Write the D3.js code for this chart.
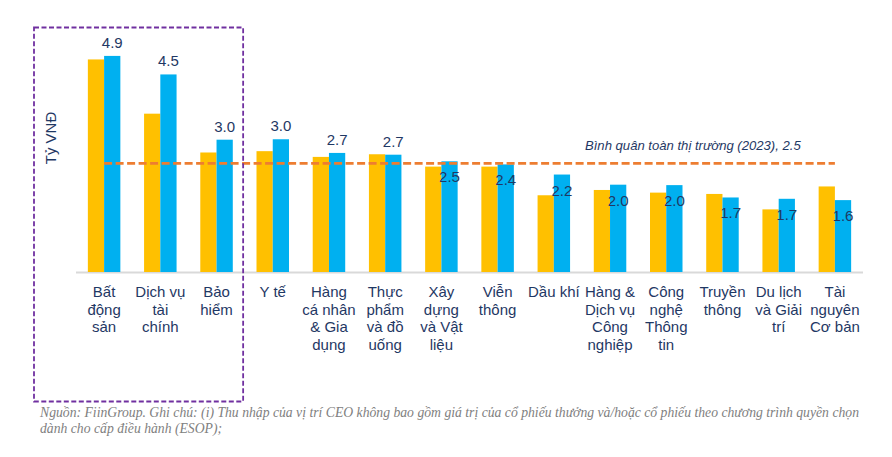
<!DOCTYPE html>
<html>
<head>
<meta charset="utf-8">
<script src="https://cdn.jsdelivr.net/npm/d3@7"></script>
<style>
  html, body { margin: 0; padding: 0; background: #ffffff; }
  svg { display: block; }
</style>
</head>
<body>
<svg id="chart" width="892" height="457"></svg>
<script>
// ---- DATA ----
const categories = [
  "Bất\nđộng\nsản",
  "Dịch vụ\ntài\nchính",
  "Bảo\nhiểm",
  "Y tế",
  "Hàng\ncá nhân\n& Gia\ndụng",
  "Thực\nphẩm\nvà đồ\nuống",
  "Xây\ndựng\nvà Vật\nliệu",
  "Viễn\nthông",
  "Dầu khí",
  "Hàng &\nDịch vụ\nCông\nnghiệp",
  "Công\nnghệ\nThông\ntin",
  "Truyền\nthông",
  "Du lịch\nvà Giải\ntrí",
  "Tài\nnguyên\nCơ bản"
];
const seriesNames = ["2022", "2023"];
const values2022 = [4.82, 3.59, 2.71, 2.74, 2.61, 2.67, 2.39, 2.39, 1.74, 1.86, 1.80, 1.77, 1.42, 1.94];
const values2023 = [4.90, 4.48, 3.00, 3.01, 2.70, 2.66, 2.51, 2.44, 2.21, 1.98, 1.97, 1.69, 1.66, 1.63];
const marketAverage = 2.5;
const averageLabel = "Bình quân toàn thị trường (2023), 2.5";
const yAxisTitle = "Tỷ VNĐ";
const footerLines = [
  "Nguồn: FiinGroup. Ghi chú: (i) Thu nhập của vị trí CEO không bao gồm giá trị của cổ phiếu thưởng và/hoặc cổ phiếu theo chương trình quyền chọn",
  "dành cho cấp điều hành (ESOP);"
];
const highlightedCount = 3; // first categories inside the dashed box

// ---- STYLE ----
const colors = { "2022": "#FFC000", "2023": "#00B0F0" };
const navy = "#1F3864";
const fontSans = "Arial, 'Liberation Sans', Helvetica, sans-serif";

const svg = d3.select("#chart");

const x0 = d3.scaleBand().domain(categories).range([76, 863]).padding(0);
const groupWidth = 32.5;
const x1 = d3.scaleBand().domain(seriesNames).range([0, groupWidth]).padding(0);
const y = d3.scaleLinear().domain([0, 5]).range([272, 272 - 5 * 44.1]);

const rows = categories.map((c, i) => ({ cat: c, "2022": values2022[i], "2023": values2023[i] }));

// baseline axis
svg.append("line")
  .attr("x1", x0.range()[0]).attr("x2", x0.range()[1])
  .attr("y1", y(0) + 0.5).attr("y2", y(0) + 0.5)
  .attr("stroke", "#D9D9D9").attr("stroke-width", 2);

// bars
const groups = svg.append("g").selectAll("g")
  .data(rows).join("g")
  .attr("transform", d => `translate(${x0(d.cat) + x0.bandwidth() / 2 - groupWidth / 2},0)`);

groups.selectAll("rect")
  .data(d => seriesNames.map(s => ({ s, v: d[s] })))
  .join("rect")
  .attr("x", d => x1(d.s))
  .attr("width", x1.bandwidth())
  .attr("y", d => y(d.v))
  .attr("height", d => y(0) - y(d.v))
  .attr("fill", d => colors[d.s]);

// value labels for 2023 series
const fmt = d3.format(".1f");
svg.append("g").selectAll("text")
  .data(rows).join("text")
  .attr("x", d => x0(d.cat) + x0.bandwidth() / 2 - groupWidth / 2 + x1("2023") + x1.bandwidth() / 2)
  .attr("y", d => d["2023"] > 2.6 ? y(d["2023"]) - 8 : y(d["2023"]) + 21)
  .attr("text-anchor", "middle")
  .attr("font-family", fontSans)
  .attr("font-size", 15)
  .attr("fill", navy)
  .text(d => fmt(d["2023"]));

// average line
const avgX1 = x0(categories[0]) + x0.bandwidth() / 2;
const avgX2 = x0(categories[categories.length - 1]) + x0.bandwidth() / 2;
svg.append("line")
  .attr("x1", avgX1).attr("x2", avgX2)
  .attr("y1", y(marketAverage) + 1.5).attr("y2", y(marketAverage) + 1.5)
  .attr("stroke", "#ED7D31").attr("stroke-width", 2.75)
  .attr("stroke-dasharray", "8,3.5");

svg.append("text")
  .attr("x", 585).attr("y", 150)
  .attr("font-family", fontSans)
  .attr("font-size", 13.1)
  .attr("font-style", "italic")
  .attr("fill", navy)
  .text(averageLabel);

// category labels
const lineH = 17.6;
const catText = svg.append("g").selectAll("text")
  .data(categories).join("text")
  .attr("x", d => x0(d) + x0.bandwidth() / 2)
  .attr("y", 297)
  .attr("text-anchor", "middle")
  .attr("font-family", fontSans)
  .attr("font-size", 15)
  .attr("fill", navy);
catText.selectAll("tspan")
  .data(d => d.split("\n").map(t => ({ t, parent: d })))
  .join("tspan")
  .attr("x", d => x0(d.parent) + x0.bandwidth() / 2)
  .attr("dy", (d, i) => i === 0 ? 0 : lineH)
  .text(d => d.t);

// y axis title
svg.append("text")
  .attr("transform", "translate(56,138) rotate(-90)")
  .attr("text-anchor", "middle")
  .attr("font-family", fontSans)
  .attr("font-size", 15)
  .attr("fill", navy)
  .text(yAxisTitle);

// highlight box around first categories
const boxRight = x0(categories[highlightedCount - 1]) + x0.bandwidth() - 1.5;
svg.append("rect")
  .attr("x", 34).attr("y", 27.5)
  .attr("width", boxRight - 34).attr("height", 374)
  .attr("fill", "none")
  .attr("stroke", "#7030A0").attr("stroke-width", 1.8)
  .attr("stroke-dasharray", "5,2.5");

// footer
const foot = svg.append("g");
footerLines.forEach((t, i) => {
  foot.append("text")
    .attr("x", 40).attr("y", 417 + i * 15.5)
    .attr("font-family", "'Liberation Serif', 'Times New Roman', serif")
    .attr("font-style", "italic")
    .attr("font-size", 13.5)
    .attr("fill", "#808080")
    .text(t);
});
const first = foot.select("text").node();
const w = first.getComputedTextLength();
const targetW = 820;
const fs = 13.5 * targetW / w;
foot.selectAll("text").attr("font-size", Math.min(fs, 14.5));
</script>
</body>
</html>
